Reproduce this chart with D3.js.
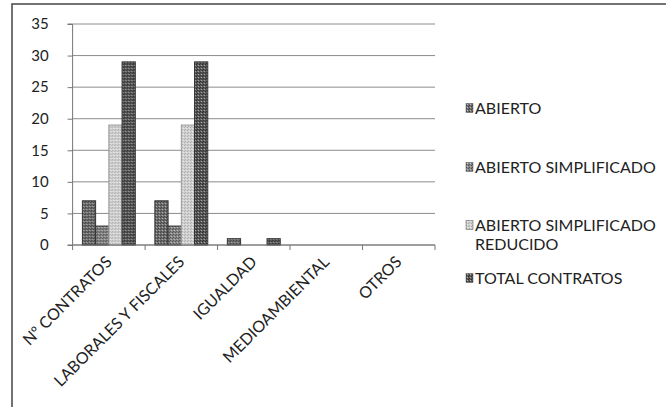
<!DOCTYPE html>
<html>
<head>
<meta charset="utf-8">
<script src="https://cdn.jsdelivr.net/npm/d3@7"></script>
<style>
  body { margin: 0; background: #fff; }
  text { font-family: Lato, "Open Sans", sans-serif; fill: #222; }
</style>
</head>
<body>
<div class="chart"></div>
<script>
var svgWidth = 666;
var svgHeight = 407;

// data
var categories = ["Nº CONTRATOS", "LABORALES Y FISCALES", "IGUALDAD", "MEDIOAMBIENTAL", "OTROS"];
var seriesNames = ["ABIERTO", "ABIERTO SIMPLIFICADO", "ABIERTO SIMPLIFICADO REDUCIDO", "TOTAL CONTRATOS"];
var abierto = [7, 7, 1, 0, 0];
var abiertoSimplificado = [3, 3, 0, 0, 0];
var abiertoReducido = [19, 19, 0, 0, 0];
var totalContratos = [29, 29, 1, 0, 0];
var yTicks = [0, 5, 10, 15, 20, 25, 30, 35];

var seriesValues = [abierto, abiertoSimplificado, abiertoReducido, totalContratos];
var seriesFill = ["#6f6f6f", "#858585", "#d2d2d2", "#5a5a5a"];
var seriesDot = ["#3a3a3a", "#505050", "#a8a8a8", "#2a2a2a"];

var margin = { top: 24, left: 72.6, right: 231, bottom: 162 };
var width = svgWidth - margin.left - margin.right;
var height = svgHeight - margin.top - margin.bottom;

var svg = d3.select(".chart")
  .append("svg")
  .attr("width", svgWidth)
  .attr("height", svgHeight);

// halftone-ish fills to mimic the photocopy
var defs = svg.append("defs");
seriesFill.forEach(function(c, i) {
  var p = defs.append("pattern")
    .attr("id", "pat" + i)
    .attr("width", 3)
    .attr("height", 3)
    .attr("patternUnits", "userSpaceOnUse");
  p.append("rect").attr("width", 3).attr("height", 3).attr("fill", c);
  p.append("rect").attr("x", 0).attr("y", 0).attr("width", 1).attr("height", 1).attr("fill", seriesDot[i]);
  p.append("rect").attr("x", 2).attr("y", 1).attr("width", 1).attr("height", 1).attr("fill", seriesDot[i]);
  p.append("rect").attr("x", 1).attr("y", 2).attr("width", 1).attr("height", 1).attr("fill", "#fff").attr("opacity", 0.5);
});

// outer chart border (right and bottom fall outside the scan)
svg.append("rect")
  .attr("x", 12)
  .attr("y", 4)
  .attr("width", 700)
  .attr("height", 450)
  .attr("fill", "none")
  .attr("stroke", "#444")
  .attr("stroke-width", 1.5);

var chart = svg.append("g")
  .attr("transform", "translate(" + margin.left + "," + margin.top + ")");

var x0 = d3.scaleBand()
  .domain(categories)
  .range([0, width])
  .paddingInner(0.27)
  .paddingOuter(0.135);

var x1 = d3.scaleBand()
  .domain(d3.range(seriesNames.length))
  .range([0, x0.bandwidth()]);

var y = d3.scaleLinear()
  .domain([0, 35])
  .range([height, 0]);

// gridlines
chart.append("g")
  .selectAll("line")
  .data(yTicks)
  .enter().append("line")
    .attr("x1", 0)
    .attr("x2", width)
    .attr("y1", function(d) { return y(d); })
    .attr("y2", function(d) { return y(d); })
    .attr("stroke", "#8c8c8c")
    .attr("stroke-width", 1);

// bars
var groups = chart.selectAll(".group")
  .data(categories)
  .enter().append("g")
    .attr("class", "group")
    .attr("transform", function(d) { return "translate(" + x0(d) + ",0)"; });

groups.selectAll("rect")
  .data(function(d, ci) {
    return seriesValues.map(function(vals, si) { return { s: si, v: vals[ci] }; });
  })
  .enter().append("rect")
    .filter(function(d) { return d.v > 0; })
    .attr("x", function(d) { return x1(d.s); })
    .attr("y", function(d) { return y(d.v); })
    .attr("width", x1.bandwidth())
    .attr("height", function(d) { return height - y(d.v); })
    .attr("fill", function(d) { return "url(#pat" + d.s + ")"; })
    .attr("stroke", function(d) { return d.s === 2 ? "#9a9a9a" : "#333"; })
    .attr("stroke-width", 1);

// y axis
var leftAxis = d3.axisLeft(y)
  .tickValues(yTicks)
  .tickSize(5)
  .tickPadding(19);

var yAxisG = chart.append("g").call(leftAxis);
yAxisG.select(".domain").attr("stroke", "#777").attr("d", "M-5,0H0V" + height + "H-5");
yAxisG.selectAll(".tick line").attr("stroke", "#777");
yAxisG.selectAll(".tick text")
  .style("font-size", "15px")
  .style("fill", "#222");

// x axis line and boundary ticks
chart.append("line")
  .attr("x1", 0)
  .attr("x2", width)
  .attr("y1", height)
  .attr("y2", height)
  .attr("stroke", "#777");

var step = x0.step();
chart.append("g")
  .selectAll("line")
  .data(d3.range(categories.length + 1))
  .enter().append("line")
    .attr("x1", function(i) { return i * step; })
    .attr("x2", function(i) { return i * step; })
    .attr("y1", height)
    .attr("y2", height + 5)
    .attr("stroke", "#777");

// rotated category labels
chart.append("g")
  .selectAll("text")
  .data(categories)
  .enter().append("text")
    .attr("transform", function(d) {
      return "translate(" + (x0(d) + x0.bandwidth() / 2) + "," + (height + 14) + ") rotate(-45)";
    })
    .attr("text-anchor", "end")
    .attr("dy", "0.35em")
    .style("font-size", "16px")
    .text(function(d) { return d; });

// legend
var legendY = [108, 167, 225, 278];
var legend = svg.append("g").attr("class", "legend");

seriesNames.forEach(function(name, i) {
  var item = legend.append("g")
    .attr("transform", "translate(466," + legendY[i] + ")");
  item.append("rect")
    .attr("x", 0)
    .attr("y", -4.5)
    .attr("width", 7)
    .attr("height", 9)
    .attr("fill", "url(#pat" + i + ")")
    .attr("stroke", "#555")
    .attr("stroke-width", 0.5);
  var t = item.append("text")
    .attr("x", 9)
    .attr("dy", "0.35em")
    .style("font-size", "16px");
  // long names wrap onto a second line like in Excel
  var words = name.split(" ");
  var line = [];
  var tspan = t.append("tspan").attr("x", 9);
  words.forEach(function(w) {
    line.push(w);
    tspan.text(line.join(" "));
    if (tspan.node().getComputedTextLength() > 190 && line.length > 1) {
      line.pop();
      tspan.text(line.join(" "));
      line = [w];
      tspan = t.append("tspan").attr("x", 9).attr("dy", "1.2em").text(w);
    }
  });
});
</script>
</body>
</html>
